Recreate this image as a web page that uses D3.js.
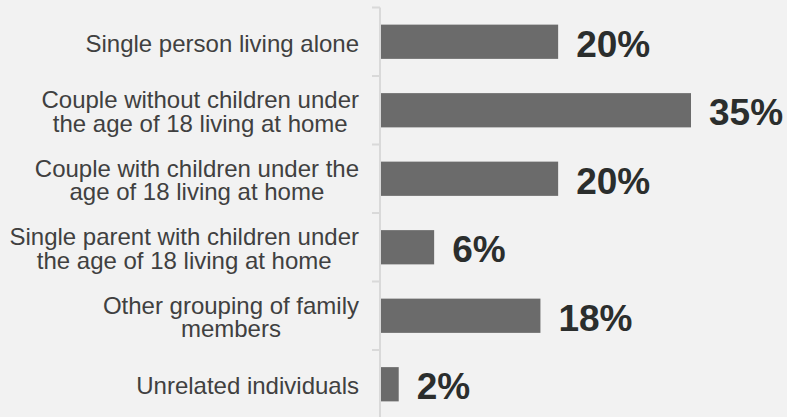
<!DOCTYPE html>
<html>
<head>
<meta charset="utf-8">
<script src="https://cdn.jsdelivr.net/npm/d3@7"></script>
<style>
  html, body { margin: 0; padding: 0; background: #f2f2f2; }
  svg { display: block; }
  text { font-family: "Liberation Sans", Arial, Helvetica, sans-serif; }
</style>
</head>
<body>
<script>
// Household composition shares (%)
const categories = [
  ["Single person living alone"],
  ["Couple without children under", "the age of 18 living at home"],
  ["Couple with children under the", "age of 18 living at home"],
  ["Single parent with children under", "the age of 18 living at home"],
  ["Other grouping of family", "members"],
  ["Unrelated individuals"]
];
const values = [20, 35, 20, 6, 18, 2];
const valueLabels = ["20%", "35%", "20%", "6%", "18%", "2%"];

const width = 787, height = 417;
const axisX = 380;

const svg = d3.select("body").append("svg")
  .attr("width", width).attr("height", height);

svg.append("rect").attr("width", width).attr("height", height).attr("fill", "#f2f2f2");

const keys = categories.map((d, i) => i);

const y = d3.scaleBand().domain(keys).range([7.5, 418.5]).padding(0);
const x = d3.scaleLinear().domain([0, 35]).range([axisX + 1, axisX + 1 + 310]);

// Bars
svg.selectAll("rect.bar").data(values).join("rect")
  .attr("class", "bar")
  .attr("x", x(0))
  .attr("y", (d, i) => y(i) + y.bandwidth() * 0.25)
  .attr("width", d => x(d) - x(0))
  .attr("height", y.bandwidth() * 0.5)
  .attr("fill", "#6b6b6b");

// Category axis line and tick marks at band boundaries
svg.append("line")
  .attr("x1", axisX).attr("x2", axisX)
  .attr("y1", y.range()[0]).attr("y2", height)
  .attr("stroke", "#d9d9d9").attr("stroke-width", 2);

svg.selectAll("line.tick").data(keys).join("line")
  .attr("class", "tick")
  .attr("x1", axisX - 8).attr("x2", axisX)
  .attr("y1", i => y(i)).attr("y2", i => y(i))
  .attr("stroke", "#d9d9d9").attr("stroke-width", 2);

// Category labels: one text per category, lines centred,
// block right-aligned next to the axis
const labelRight = 359;
const lineH = 23.4;
const fs = 24;
categories.forEach((lines, i) => {
  const cy = y(i) + y.bandwidth() / 2;
  const text = svg.append("text")
    .attr("font-size", fs)
    .attr("fill", "#404040")
    .attr("text-anchor", "middle");
  const spans = lines.map((t, j) => text.append("tspan")
    .attr("y", cy + (j - (lines.length - 1) / 2) * lineH)
    .attr("dy", "0.41em")
    .text(t));
  const maxW = d3.max(spans, s => s.node().getComputedTextLength());
  spans.forEach(s => s.attr("x", labelRight - maxW / 2));
});

// Value labels
svg.selectAll("text.val").data(values).join("text")
  .attr("class", "val")
  .attr("x", d => x(d) + 18)
  .attr("y", (d, i) => y(i) + y.bandwidth() / 2)
  .attr("dy", "0.41em")
  .attr("font-size", 37)
  .attr("font-weight", "bold")
  .attr("fill", "#2b2e2d")
  .text((d, i) => valueLabels[i]);
</script>
</body>
</html>
